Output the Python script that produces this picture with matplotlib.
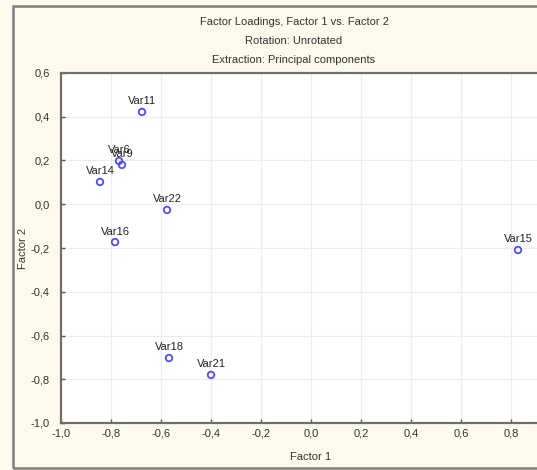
import matplotlib
matplotlib.use("Agg")
import matplotlib.pyplot as plt
from matplotlib.ticker import FuncFormatter, FixedLocator, MultipleLocator
from matplotlib.patches import Rectangle
import numpy as np

# factor loadings (unrotated, principal components)
var_names = ["Var6", "Var9", "Var11", "Var14", "Var15", "Var16", "Var18", "Var21", "Var22"]
factor1 = [-0.768, -0.756, -0.676, -0.844, 0.828, -0.784, -0.568, -0.40, -0.576]
factor2 = [0.198, 0.180, 0.422, 0.102, -0.209, -0.173, -0.703, -0.78, -0.026]

title_lines = ["Factor Loadings, Factor 1 vs. Factor 2",
               "Rotation: Unrotated",
               "Extraction: Principal components"]

W, H = 537, 470
fig = plt.figure(figsize=(W / 100, H / 100), dpi=100)
bg = "#fdf9ec"
fig.patch.set_facecolor(bg)
plt.rcParams["font.family"] = ["Liberation Sans", "DejaVu Sans"]

# outer frame of the graph window
fig.patches.append(Rectangle((13 / W, 1 - 468 / H), 1.2, (468 - 6) / H,
                             transform=fig.transFigure, fill=False,
                             edgecolor="#7f7f7f", linewidth=1.8))

# axes run from -1.0 to 1.0; right part is clipped by the window
ax = fig.add_axes([61 / W, 1 - 423 / H, 500 / W, 350 / H])
ax.set_facecolor("white")
ax.set_xlim(-1.0, 1.0)
ax.set_ylim(-1.0, 0.6)
ax.xaxis.set_major_locator(FixedLocator(np.round(np.arange(-1.0, 0.81, 0.2), 1)))
ax.yaxis.set_major_locator(MultipleLocator(0.2))
comma = FuncFormatter(lambda v, p: ("%.1f" % v).replace(".", ",").replace("-0,0", "0,0"))
ax.xaxis.set_major_formatter(comma)
ax.yaxis.set_major_formatter(comma)
ax.grid(True, color="#ececec", linewidth=0.8)
ax.set_axisbelow(True)
for s in ax.spines.values():
    s.set_color("#6e6e6e")
    s.set_linewidth(1.6)
ax.tick_params(direction="in", length=3, width=1, color="#555555",
               labelsize=8, labelcolor="#333333", pad=4)
ax.tick_params(axis="y", pad=8)

ax.scatter(factor1, factor2, s=22, facecolors="none", edgecolors="#4d4dff",
           linewidths=1.3, zorder=3)
for name, x, y in zip(var_names, factor1, factor2):
    ax.annotate(name, (x, y), xytext=(0, 4), textcoords="offset points",
                ha="center", va="bottom", fontsize=8, color="#222222")

ax.set_xlabel("Factor 1", fontsize=8, color="#333333")
ax.set_ylabel("Factor 2", fontsize=8, color="#333333")
ax.xaxis.set_label_coords(0.5, -0.098)
ax.yaxis.set_label_coords(-0.076, 0.5)
ax.xaxis.label.set_va("center")
ax.yaxis.label.set_va("center")

for line, ypix in zip(title_lines, [22, 41, 60]):
    fig.text(294 / W, 1 - ypix / H, line, ha="center", va="center",
             fontsize=8, color="#333333")

fig.savefig("out.png", dpi=100, facecolor=bg)
